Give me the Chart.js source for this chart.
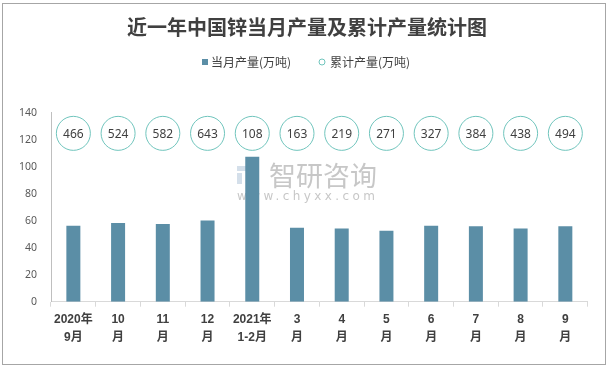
<!DOCTYPE html>
<html>
<head>
<meta charset="utf-8">
<script src="https://cdn.jsdelivr.net/npm/chart.js@4.4.1/dist/chart.umd.min.js"></script>
<style>
  html, body { margin: 0; padding: 0; background: #ffffff; }
  #wrap { width: 612px; height: 368px; position: relative; }
</style>
</head>
<body>
<div id="wrap"><canvas id="c" width="612" height="368"></canvas></div>
<script>
// ---- data ----
const categories = [
  ['2020年', '9月'], ['10', '月'], ['11', '月'], ['12', '月'], ['2021年', '1-2月'],
  ['3', '月'], ['4', '月'], ['5', '月'], ['6', '月'], ['7', '月'], ['8', '月'], ['9', '月']
];
const monthlyOutput = [56.2, 58.3, 57.6, 60.2, 107.4, 54.8, 54.2, 52.6, 56.2, 55.8, 54.2, 55.8];
const cumulativeOutput = [466, 524, 582, 643, 108, 163, 219, 271, 327, 384, 438, 494];
const seriesNames = ['当月产量(万吨)', '累计产量(万吨)'];
const titleText = '近一年中国锌当月产量及累计产量统计图';
const yTicks = { min: 0, max: 140, step: 20 };

// level (in y-axis units) at which the cumulative-value bubbles sit
const bubbleLevel = 124.7;

const BAR_COLOR = '#5b8ea6';
const RING_COLOR = '#70c5bd';
const TEXT_COLOR = '#404040';
const CJK = '"Noto Sans CJK SC", "Noto Sans", sans-serif';

const decorPlugin = {
  id: 'decor',
  beforeDraw(chart) {
    const ctx = chart.ctx;
    ctx.save();
    ctx.fillStyle = '#ffffff';
    ctx.fillRect(0, 0, chart.width, chart.height);
    ctx.restore();
  },
  beforeDatasetsDraw(chart) {
    // watermark
    const ctx = chart.ctx;
    ctx.save();
    ctx.globalAlpha = 0.5;
    // logo
    ctx.fillStyle = '#a9bfd6';
    ctx.fillRect(237, 166, 9, 5);
    ctx.fillRect(237, 173, 5, 11);
    ctx.fillStyle = '#6f9fd0';
    ctx.fillRect(248, 166, 10, 18);
    ctx.fillStyle = '#ffffff';
    ctx.fillRect(251, 171, 4, 3);
    ctx.fillRect(248, 177, 6, 2);
    ctx.fillStyle = '#8f8f8f';
    ctx.font = '27px ' + CJK;
    ctx.textAlign = 'left';
    ctx.textBaseline = 'middle';
    ctx.fillText('智研咨询', 269, 176);
    ctx.font = '12px "DejaVu Sans", sans-serif';
    try { ctx.letterSpacing = '3.4px'; } catch (e) {}
    ctx.fillText('www.chyxx.com', 237, 197);
    ctx.restore();
  },
  afterDraw(chart) {
    const ctx = chart.ctx;
    ctx.save();
    // title
    ctx.fillStyle = TEXT_COLOR;
    ctx.font = 'bold 20px ' + CJK;
    ctx.textAlign = 'center';
    ctx.textBaseline = 'middle';
    ctx.fillText(titleText, 307, 27);

    // legend
    ctx.font = '12px ' + CJK;
    ctx.textAlign = 'left';
    ctx.fillStyle = BAR_COLOR;
    ctx.fillRect(202, 59, 6, 6);
    ctx.fillStyle = TEXT_COLOR;
    ctx.fillText(seriesNames[0], 211, 62);
    ctx.beginPath();
    ctx.arc(322, 62, 3, 0, Math.PI * 2);
    ctx.strokeStyle = RING_COLOR;
    ctx.lineWidth = 1;
    ctx.stroke();
    ctx.fillText(seriesNames[1], 330, 62);

    // bubble labels
    const meta = chart.getDatasetMeta(1);
    ctx.font = '12px "Noto Sans", sans-serif';
    ctx.textAlign = 'center';
    ctx.fillStyle = TEXT_COLOR;
    meta.data.forEach((pt, i) => {
      ctx.fillText(String(cumulativeOutput[i]), pt.x, pt.y + 1);
    });

    // outer frame
    ctx.strokeStyle = '#a6a6a6';
    ctx.lineWidth = 1;
    ctx.strokeRect(2.5, 3.5, 603, 361);
    ctx.restore();
  }
};

new Chart(document.getElementById('c'), {
  type: 'bar',
  data: {
    labels: categories,
    datasets: [
      {
        label: seriesNames[0],
        data: monthlyOutput,
        backgroundColor: BAR_COLOR,
        barPercentage: 0.313,
        categoryPercentage: 1.0,
        order: 2
      },
      {
        type: 'line',
        label: seriesNames[1],
        data: cumulativeOutput.map(() => bubbleLevel),
        showLine: false,
        pointRadius: 17,
        pointHoverRadius: 17,
        pointBackgroundColor: '#ffffff',
        pointBorderColor: RING_COLOR,
        pointBorderWidth: 1,
        order: 1
      }
    ]
  },
  options: {
    responsive: false,
    animation: false,
    devicePixelRatio: 1,
    layout: { padding: { left: 0, right: 24.3, top: 112.7, bottom: 0 } },
    plugins: {
      legend: { display: false },
      title: { display: false },
      tooltip: { enabled: false }
    },
    scales: {
      x: {
        grid: {
          display: true,
          drawOnChartArea: false,
          drawTicks: true,
          tickLength: 5,
          color: '#d9d9d9',
          offset: true
        },
        border: { display: true, color: '#d9d9d9', width: 1 },
        ticks: {
          color: TEXT_COLOR,
          font: { family: '"Liberation Sans", "Noto Sans CJK SC", sans-serif', size: 12, weight: 'bold', lineHeight: 1.5 },
          padding: 4,
          maxRotation: 0,
          autoSkip: false
        },
        afterFit(scale) { scale.height = 66.3; }
      },
      y: {
        min: yTicks.min,
        max: yTicks.max,
        grid: { display: false, drawTicks: false },
        border: { display: true, color: '#bfbfbf', width: 1 },
        ticks: {
          stepSize: yTicks.step,
          color: '#595959',
          font: { family: '"Noto Sans", sans-serif', size: 10.5 },
          padding: 14
        },
        afterFit(scale) { scale.width = 51; }
      }
    }
  },
  plugins: [decorPlugin]
});
</script>
</body>
</html>
